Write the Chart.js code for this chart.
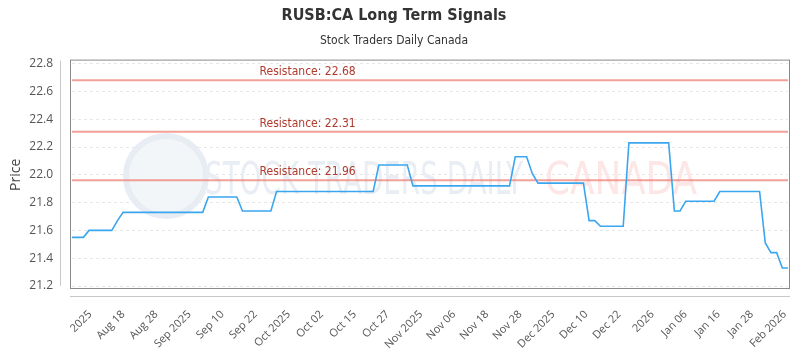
<!DOCTYPE html>
<html>
<head>
<meta charset="utf-8">
<script src="https://cdn.jsdelivr.net/npm/chart.js@4.4.1/dist/chart.umd.min.js"></script>
<style>
  html, body { margin: 0; padding: 0; background: #fff; }
</style>
</head>
<body>
<canvas id="signalsChart" width="800" height="350"></canvas>
<script>
// Daily closes, one per trading day (mid Aug 2025 to early Feb 2026)
const prices = [
    21.55, 21.55, 21.55, 21.60, 21.60, 21.60, 21.60, 21.60, 21.67, 21.73,
    21.73, 21.73, 21.73, 21.73, 21.73, 21.73, 21.73, 21.73, 21.73, 21.73,
    21.73, 21.73, 21.73, 21.73, 21.84, 21.84, 21.84, 21.84, 21.84, 21.84,
    21.74, 21.74, 21.74, 21.74, 21.74, 21.74, 21.88, 21.88, 21.88, 21.88,
    21.88, 21.88, 21.88, 21.88, 21.88, 21.88, 21.88, 21.88, 21.88, 21.88,
    21.88, 21.88, 21.88, 21.88, 22.07, 22.07, 22.07, 22.07, 22.07, 22.07,
    21.92, 21.92, 21.92, 21.92, 21.92, 21.92, 21.92, 21.92, 21.92, 21.92,
    21.92, 21.92, 21.92, 21.92, 21.92, 21.92, 21.92, 21.92, 22.13, 22.13,
    22.13, 22.01, 21.94, 21.94, 21.94, 21.94, 21.94, 21.94, 21.94, 21.94,
    21.94, 21.67, 21.67, 21.63, 21.63, 21.63, 21.63, 21.63, 22.23, 22.23,
    22.23, 22.23, 22.23, 22.23, 22.23, 22.23, 21.74, 21.74, 21.81, 21.81,
    21.81, 21.81, 21.81, 21.81, 21.88, 21.88, 21.88, 21.88, 21.88, 21.88,
    21.88, 21.88, 21.51, 21.44, 21.44, 21.33, 21.33
];

const tickLabels = [
    '2025', 'Aug 18', 'Aug 28', 'Sep 2025', 'Sep 10', 'Sep 22', 'Oct 2025',
    'Oct 02', 'Oct 15', 'Oct 27', 'Nov 2025', 'Nov 06', 'Nov 18', 'Nov 28',
    'Dec 2025', 'Dec 10', 'Dec 22', '2026', 'Jan 06', 'Jan 16', 'Jan 28', 'Feb 2026'
];

const resistance = [22.68, 22.31, 21.96];

// where the first date tick sits and the gap between ticks (in trading days)
const firstTick = 3.2;
const tickGap = 5.82;

const fontFamily = '"Open Sans", "DejaVu Sans", sans-serif';
const narrowFont = '"Liberation Sans Narrow", "DejaVu Sans Condensed", sans-serif';

// faint logo, frame, offset axis lines and resistance labels
const decorations = {
    id: 'decorations',
    beforeDatasetsDraw(chart) {
        const ctx = chart.ctx;
        ctx.save();
        ctx.beginPath();
        ctx.arc(166, 176, 40, 0, Math.PI * 2);
        ctx.fillStyle = '#f3f6f9';
        ctx.fill();
        ctx.lineWidth = 6;
        ctx.strokeStyle = '#e8edf4';
        ctx.stroke();
        ctx.font = '44px ' + narrowFont;
        ctx.textBaseline = 'alphabetic';
        ctx.fillStyle = '#e9eef4';
        ctx.fillText('STOCK TRADERS DAILY', 205, 194, 318);
        ctx.fillStyle = '#fde6e6';
        ctx.fillText('CANADA', 545, 194, 152);
        ctx.restore();
    },
    afterDraw(chart) {
        const ctx = chart.ctx;
        const a = chart.chartArea;
        const y = chart.scales.y;
        ctx.save();
        // frame round the plot
        ctx.strokeStyle = '#8a8a8a';
        ctx.lineWidth = 1;
        ctx.strokeRect(a.left - 1.5, a.top - 3.5, a.right - a.left + 3, a.bottom - a.top + 6);
        // detached axis lines
        ctx.strokeStyle = '#c8c8c8';
        ctx.beginPath();
        ctx.moveTo(60.5, a.top - 3);
        ctx.lineTo(60.5, a.bottom);
        ctx.moveTo(a.left - 2, a.bottom + 10.5);
        ctx.lineTo(a.right + 2, a.bottom + 10.5);
        ctx.stroke();
        // resistance labels
        ctx.font = '12px ' + narrowFont;
        ctx.fillStyle = '#b03a2e';
        ctx.textAlign = 'left';
        ctx.textBaseline = 'alphabetic';
        resistance.forEach(r => {
            ctx.fillText('Resistance: ' + r.toFixed(2), a.left + (a.right - a.left) * 0.262, y.getPixelForValue(r) - 5);
        });
        ctx.restore();
    }
};

const ctx = document.getElementById('signalsChart').getContext('2d');
new Chart(ctx, {
    type: 'line',
    data: {
        datasets: [
            {
                label: 'Price',
                data: prices.map((v, i) => ({ x: i, y: v })),
                borderColor: '#3aa6f0',
                borderWidth: 1.6,
                pointRadius: 0,
                tension: 0
            },
            ...resistance.map(r => ({
                label: 'Resistance',
                data: [{ x: 0, y: r }, { x: prices.length - 1, y: r }],
                borderColor: 'rgba(238, 120, 110, 0.7)',
                borderWidth: 2,
                pointRadius: 0
            }))
        ]
    },
    options: {
        responsive: false,
        animation: false,
        layout: { padding: { left: 0, right: 12, top: 0, bottom: 0 } },
        plugins: {
            legend: { display: false },
            tooltip: { enabled: false },
            title: {
                display: true,
                text: 'RUSB:CA Long Term Signals',
                color: '#333',
                font: { family: narrowFont, size: 16, weight: 'bold' },
                padding: { top: 6, bottom: 4 }
            },
            subtitle: {
                display: true,
                text: 'Stock Traders Daily Canada',
                color: '#333',
                font: { family: narrowFont, size: 12 },
                padding: { top: 4, bottom: 16 }
            }
        },
        scales: {
            x: {
                type: 'linear',
                min: 0,
                max: prices.length - 1,
                grid: { display: false },
                border: { display: false },
                afterBuildTicks: scale => {
                    scale.ticks = tickLabels.map((_, k) => ({ value: firstTick + k * tickGap }));
                },
                afterFit: scale => {
                    scale.height = 64;
                    scale.paddingLeft = 0;
                    scale.paddingRight = 0;
                },
                ticks: {
                    autoSkip: false,
                    maxRotation: 45,
                    minRotation: 45,
                    padding: 14,
                    color: '#555',
                    font: { family: fontFamily, size: 11 },
                    callback: (value, index) => tickLabels[index]
                }
            },
            y: {
                min: 21.2,
                max: 22.8,
                afterFit: scale => { scale.width = 72; },
                grid: { color: '#e6e6e6', drawTicks: false },
                border: { display: false, dash: [3, 3] },
                ticks: {
                    stepSize: 0.2,
                    padding: 19,
                    color: '#555',
                    font: { family: fontFamily, size: 12 },
                    callback: v => v.toFixed(1)
                },
                title: {
                    display: true,
                    text: 'Price',
                    color: '#444',
                    font: { family: fontFamily, size: 14 },
                    padding: { top: 8, bottom: 0 }
                }
            }
        }
    },
    plugins: [decorations]
});
</script>
</body>
</html>
